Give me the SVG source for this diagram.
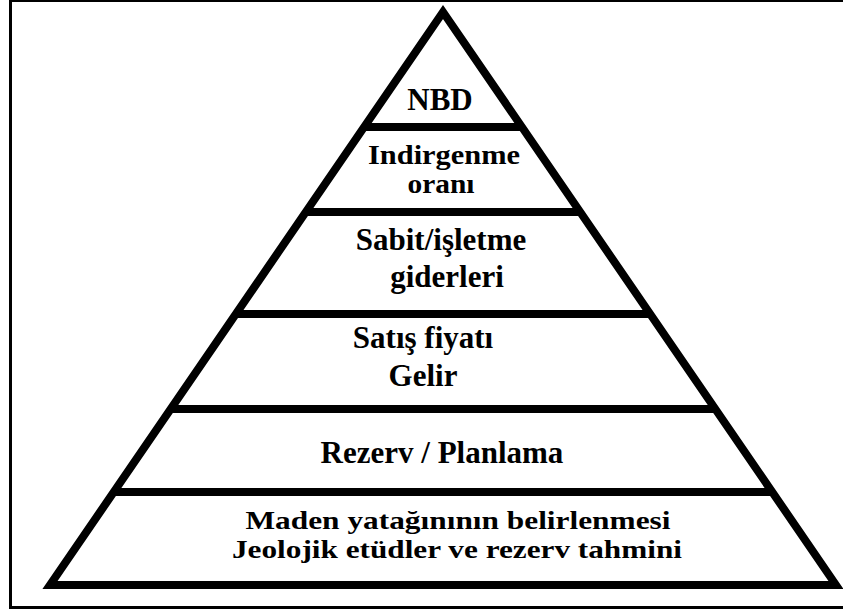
<svg xmlns="http://www.w3.org/2000/svg" width="843" height="609" viewBox="0 0 843 609">
  <style>
    .frame { fill: none; stroke: #000; }
    .edge { fill: none; stroke: #000; stroke-width: 8; stroke-linejoin: miter; stroke-linecap: butt; }
    .lbl { font-family: "Liberation Serif", "Times New Roman", serif; font-weight: bold; font-size: 31px; fill: #000; text-anchor: middle; }
    .tight { font-size: 27px; }
    .tighter { font-size: 25px; }
  </style>
  <rect width="843" height="609" fill="#fff"/>
  <g id="frame">
    <line class="frame" x1="9" y1="1" x2="843" y2="1" stroke-width="2"/>
    <line class="frame" x1="10.5" y1="0" x2="10.5" y2="609" stroke-width="3"/>
    <line class="frame" x1="9" y1="607.5" x2="843" y2="607.5" stroke-width="3"/>
  </g>
  <g id="connectors">
    <path class="edge" d="M443,12 L836,585 L50,585 Z"/>
    <line class="edge" x1="364" y1="127" x2="522" y2="127"/>
    <line class="edge" x1="306" y1="212" x2="580" y2="212"/>
    <line class="edge" x1="236" y1="314" x2="650" y2="314"/>
    <line class="edge" x1="171" y1="409" x2="715" y2="409"/>
    <line class="edge" x1="114" y1="492" x2="772" y2="492"/>
  </g>
  <g id="tier-nbd">
    <text class="lbl" x="440" y="110">NBD</text>
  </g>
  <g id="tier-indirgenme">
    <text class="lbl tight" x="444" y="164" textLength="152" lengthAdjust="spacingAndGlyphs">Indirgenme</text>
    <text class="lbl tight" x="441" y="193" textLength="67" lengthAdjust="spacingAndGlyphs">oranı</text>
  </g>
  <g id="tier-sabit">
    <text class="lbl" x="441" y="250">Sabit/işletme</text>
    <text class="lbl" x="447" y="287">giderleri</text>
  </g>
  <g id="tier-satis">
    <text class="lbl" x="423" y="348">Satış fiyatı</text>
    <text class="lbl" x="423" y="386">Gelir</text>
  </g>
  <g id="tier-rezerv">
    <text class="lbl" x="442" y="463">Rezerv / Planlama</text>
  </g>
  <g id="tier-maden">
    <text class="lbl tighter" x="458" y="529" textLength="425" lengthAdjust="spacingAndGlyphs">Maden yatağınının belirlenmesi</text>
    <text class="lbl tighter" x="457" y="558" textLength="450" lengthAdjust="spacingAndGlyphs">Jeolojik etüdler ve rezerv tahmini</text>
  </g>
</svg>
